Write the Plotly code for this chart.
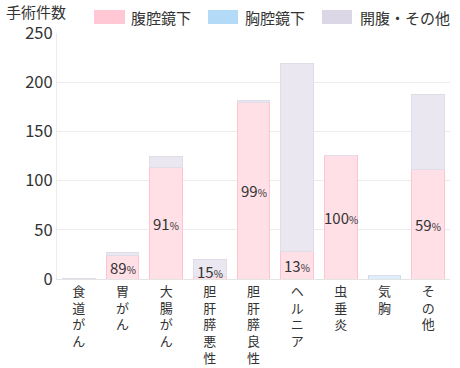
import plotly.graph_objects as go

categories = ["食道がん", "胃がん", "大腸がん", "胆肝膵悪性", "胆肝膵良性", "ヘルニア", "虫垂炎", "気胸", "その他"]
laparoscopic = [0, 24, 113, 3, 179, 28, 126, 0, 111]
thoracoscopic = [1, 0, 0, 0, 0, 0, 0, 4, 0]
open_other = [0, 3, 11, 17, 2, 191, 0, 0, 77]
series_names = ["腹腔鏡下", "胸腔鏡下", "開腹・その他"]
y_ticks = [0, 50, 100, 150, 200, 250]

FONT = "Noto Sans CJK JP, Noto Sans, sans-serif"
TXT = "#333333"

fills = ["#FFE0E6", "#DDEFFB", "#EAE7F0"]
lines = ["#FFC4CF", "#B9DDF6", "#E0DCE8"]
legend_fills = ["#FFC8D4", "#B3DBF7", "#DCD7E6"]

ticktext = ["<br>".join(list(c)) for c in categories]

W, H = 460, 368
ml, mr, mt, mb = 57, 10, 33, 89
pw, ph = W - ml - mr, H - mt - mb
def px(xp):
    return (xp - ml) / pw
def py(yp):
    return (H - mb - yp) / ph

fig = go.Figure()
for name, vals, fc, lc in zip(series_names, [laparoscopic, thoracoscopic, open_other], fills, lines):
    fig.add_trace(go.Bar(
        x=categories, y=vals, name=name,
        marker=dict(color=fc, line=dict(color=lc, width=1)),
        showlegend=False, hoverinfo="skip",
    ))

annotations = []
for c, lap, th, op in zip(categories, laparoscopic, thoracoscopic, open_other):
    total = lap + th + op
    if lap > 0:
        pct = round(lap / total * 100)
        annotations.append(dict(
            x=c, y=max(lap / 2, 7.5), xref="x", yref="y",
            text=f"{pct}<span style='font-size:10px'>%</span>",
            showarrow=False, font=dict(family=FONT, size=15, color=TXT),
        ))

annotations.append(dict(x=px(4), y=py(11), xref="paper", yref="paper", text="手術件数",
                        showarrow=False, xanchor="left", yanchor="middle",
                        font=dict(family=FONT, size=15, color=TXT)))

legend_items = [(94, 125, 129), (208, 238, 243), (322, 352, 358)]
shapes = []
for (x0, x1, tx), name, col in zip(legend_items, series_names, legend_fills):
    shapes.append(dict(type="rect", xref="paper", yref="paper",
                       x0=px(x0), x1=px(x1), y0=py(24), y1=py(10),
                       fillcolor=col, line=dict(width=0)))
    annotations.append(dict(x=px(tx), y=py(17), xref="paper", yref="paper",
                            text=name, showarrow=False, xanchor="left", yanchor="middle",
                            font=dict(family=FONT, size=15, color=TXT)))

fig.update_layout(
    width=W, height=H,
    margin=dict(l=ml, r=mr, t=mt, b=mb, autoexpand=False),
    barmode="stack", bargap=0.25,
    plot_bgcolor="white", paper_bgcolor="white",
    font=dict(family=FONT, color=TXT),
    xaxis=dict(tickmode="array", tickvals=categories, ticktext=ticktext,
               tickangle=0, tickfont=dict(size=13, color=TXT),
               showgrid=False, showline=True, linecolor="#e4e4e4",
               ticks="", fixedrange=True, automargin=False),
    yaxis=dict(range=[0, 250], tickvals=y_ticks, tickfont=dict(size=16.5, color=TXT),
               showgrid=True, gridcolor="#ececec", showline=True, linecolor="#ececec",
               zeroline=False, ticks="", ticklen=0, fixedrange=True, automargin=False),
    showlegend=False,
    shapes=shapes, annotations=annotations,
)
fig.write_html("out.html", config={"displayModeBar": False},
               post_script="document.body.style.margin='0';document.body.style.overflow='hidden';")
